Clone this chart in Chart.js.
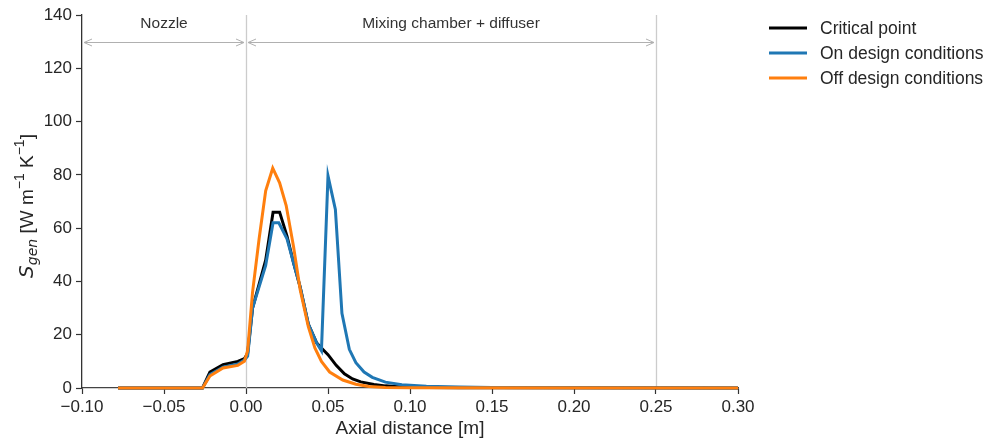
<!DOCTYPE html>
<html>
<head>
<meta charset="utf-8">
<script src="https://cdn.jsdelivr.net/npm/chart.js@4.4.1/dist/chart.umd.min.js"></script>
<style>
  html, body { margin: 0; padding: 0; background: #fff; }
  #box { width: 990px; height: 448px; }
</style>
</head>
<body>
<div id="box"><canvas id="chartSgen"></canvas></div>
<script>
'use strict';

// --- data ---
const xCritical = [-0.078, -0.0265, -0.022, -0.014, -0.005, -0.001, 0.001, 0.004, 0.008, 0.012, 0.0165, 0.0205, 0.025, 0.029, 0.033, 0.038, 0.043, 0.046, 0.050, 0.055, 0.060, 0.065, 0.070, 0.078, 0.085, 0.095, 0.11, 0.13, 0.15, 0.30];
const yCritical = [0, 0, 6, 8.8, 10, 11, 13, 30, 39, 48, 66, 66, 57, 47, 38, 24, 17, 15, 12.5, 8.5, 5.3, 3.4, 2.3, 1.3, 0.8, 0.4, 0.2, 0.1, 0.05, 0];

const xOnDesign = [-0.078, -0.0265, -0.022, -0.014, -0.005, -0.001, 0.001, 0.004, 0.012, 0.0165, 0.020, 0.025, 0.029, 0.033, 0.038, 0.043, 0.046, 0.050, 0.0545, 0.0585, 0.063, 0.067, 0.072, 0.077, 0.085, 0.095, 0.11, 0.13, 0.15, 0.30];
const yOnDesign = [0, 0, 5, 7.8, 9, 10.5, 12, 30, 46, 62, 62, 56, 47, 38, 24, 17, 14, 79.6, 67, 28, 14.5, 9.5, 6, 4, 2.2, 1.2, 0.7, 0.4, 0.15, 0];

const xOffDesign = [-0.078, -0.0265, -0.022, -0.014, -0.005, -0.001, 0.001, 0.004, 0.008, 0.012, 0.0163, 0.0205, 0.0245, 0.029, 0.033, 0.038, 0.042, 0.046, 0.051, 0.059, 0.067, 0.075, 0.085, 0.10, 0.30];
const yOffDesign = [0, 0, 4.5, 7.5, 8.5, 10, 14, 36, 56, 74, 82.5, 77, 68.5, 53, 37, 23, 15, 10, 6, 3, 1.4, 0.6, 0.2, 0.05, 0];

const seriesNames = ['Critical point', 'On design conditions', 'Off design conditions'];
const seriesColors = ['#000000', '#1f77b4', '#ff7f0e'];

const xTickValues = [-0.10, -0.05, 0.00, 0.05, 0.10, 0.15, 0.20, 0.25, 0.30];
const yTickValues = [0, 20, 40, 60, 80, 100, 120, 140];

// region markers (vertical lines) and the labelled spans between them
const regionEdges = [0.0, 0.25];
const spanStarts = [-0.10, 0.0];
const spanEnds = [0.0, 0.25];
const spanLabels = ['Nozzle', 'Mixing chamber + diffuser'];
const spanArrowY = 130;

const FONT = '"Liberation Sans", Arial, sans-serif';

function toPoints(xs, ys){
  return xs.map((x, i) => ({x: x, y: ys[i]}));
}

// draws the grey region lines + double arrows with labels
const regionPlugin = {
  id: 'regions',
  beforeDatasetsDraw(chart){
    const {ctx, chartArea, scales} = chart;
    const xs = scales.x, ys = scales.y;
    ctx.save();
    ctx.strokeStyle = '#cccccc';
    ctx.lineWidth = 1.3;
    regionEdges.forEach(v => {
      const px = Math.round(xs.getPixelForValue(v)) + 0.5;
      ctx.beginPath();
      ctx.moveTo(px, chartArea.top);
      ctx.lineTo(px, chartArea.bottom);
      ctx.stroke();
    });

    const ay = Math.round(ys.getPixelForValue(spanArrowY)) + 0.5;
    ctx.strokeStyle = '#b0b0b0';
    ctx.lineWidth = 1;
    spanStarts.forEach((s, i) => {
      const x0 = xs.getPixelForValue(s) + 2;
      const x1 = xs.getPixelForValue(spanEnds[i]) - 2;
      ctx.beginPath();
      ctx.moveTo(x0, ay);
      ctx.lineTo(x1, ay);
      // open heads
      ctx.moveTo(x0 + 8, ay - 3.5);
      ctx.lineTo(x0, ay);
      ctx.lineTo(x0 + 8, ay + 3.5);
      ctx.moveTo(x1 - 8, ay - 3.5);
      ctx.lineTo(x1, ay);
      ctx.lineTo(x1 - 8, ay + 3.5);
      ctx.stroke();

      ctx.fillStyle = '#333333';
      ctx.font = '15.5px ' + FONT;
      ctx.textAlign = 'center';
      ctx.textBaseline = 'middle';
      const mid = xs.getPixelForValue((s + spanEnds[i]) / 2);
      ctx.fillText(spanLabels[i], mid, ay - 19);
    });
    ctx.restore();
  }
};

// legend on the right + the y axis label with sub/superscripts
const extrasPlugin = {
  id: 'extras',
  afterDraw(chart){
    const {ctx, chartArea} = chart;
    ctx.save();
    // legend
    ctx.font = '17.5px ' + FONT;
    ctx.textAlign = 'left';
    ctx.textBaseline = 'middle';
    seriesNames.forEach((name, i) => {
      const y = 28 + i * 25;
      ctx.strokeStyle = seriesColors[i];
      ctx.lineWidth = 3;
      ctx.beginPath();
      ctx.moveTo(769, y);
      ctx.lineTo(807, y);
      ctx.stroke();
      ctx.fillStyle = '#262626';
      ctx.fillText(name, 820, y + 1);
    });

    // y label: S_gen [W m^-1 K^-1]
    const parts = [
      {t: 'S', f: 'italic 20px "DejaVu Sans", sans-serif', dy: 0},
      {t: 'gen', f: 'italic 14px "DejaVu Sans", sans-serif', dy: 5},
      {t: ' [W m', f: '19px ' + FONT, dy: 0},
      {t: '\u22121', f: '14px ' + FONT, dy: -8},
      {t: ' K', f: '19px ' + FONT, dy: 0},
      {t: '\u22121', f: '14px ' + FONT, dy: -8},
      {t: ']', f: '19px ' + FONT, dy: 0}
    ];
    let total = 0;
    parts.forEach(p => { ctx.font = p.f; p.w = ctx.measureText(p.t).width; total += p.w; });
    ctx.translate(23, 206);
    ctx.rotate(-Math.PI / 2);
    ctx.fillStyle = '#262626';
    ctx.textBaseline = 'middle';
    let cx = -total / 2;
    parts.forEach(p => {
      ctx.font = p.f;
      ctx.fillText(p.t, cx, p.dy + 5);
      cx += p.w;
    });
    ctx.restore();
  }
};

// orange drawn on top, black at the back
const drawOrder = [2, 1, 0];

const datasets = [
  toPoints(xCritical, yCritical),
  toPoints(xOnDesign, yOnDesign),
  toPoints(xOffDesign, yOffDesign)
].map((pts, i) => ({
  label: seriesNames[i],
  data: pts,
  borderColor: seriesColors[i],
  borderWidth: 3,
  pointRadius: 0,
  tension: 0,
  clip: false,
  fill: false,
  order: drawOrder[i]
}));

const axisColor = '#333333';

new Chart(document.getElementById('chartSgen'), {
  type: 'line',
  data: { datasets: datasets },
  options: {
    responsive: true,
    maintainAspectRatio: false,
    animation: false,
    layout: { padding: { top: 15, right: 252, left: 0, bottom: 8 } },
    plugins: {
      legend: { display: false },
      tooltip: { enabled: false }
    },
    scales: {
      x: {
        type: 'linear',
        min: -0.10,
        max: 0.30,
        afterFit: (s) => { s.height = 52; },
        afterBuildTicks: (s) => { s.ticks = xTickValues.map(v => ({value: v})); },
        ticks: {
          color: '#262626',
          font: { family: FONT, size: 17 },
          padding: 3,
          maxRotation: 0,
          callback: (v) => (v < 0 ? '\u2212' : '') + Math.abs(v).toFixed(2)
        },
        grid: { drawOnChartArea: false, drawTicks: true, tickLength: 6, color: axisColor, tickWidth: 1.2 },
        border: { display: true, color: '#444444', width: 1.3 },
        title: {
          display: true,
          text: 'Axial distance [m]',
          color: '#262626',
          font: { family: FONT, size: 19 },
          padding: { top: 0, bottom: 0 }
        }
      },
      y: {
        min: 0,
        max: 140,
        afterFit: (s) => { s.width = 82; },
        afterBuildTicks: (s) => { s.ticks = yTickValues.map(v => ({value: v})); },
        ticks: {
          color: '#262626',
          font: { family: FONT, size: 17 },
          padding: 4
        },
        grid: { drawOnChartArea: false, drawTicks: true, tickLength: 6, color: axisColor, tickWidth: 1.2 },
        border: { display: true, color: axisColor, width: 1.3 }
      }
    }
  },
  plugins: [regionPlugin, extrasPlugin]
});
</script>
</body>
</html>
